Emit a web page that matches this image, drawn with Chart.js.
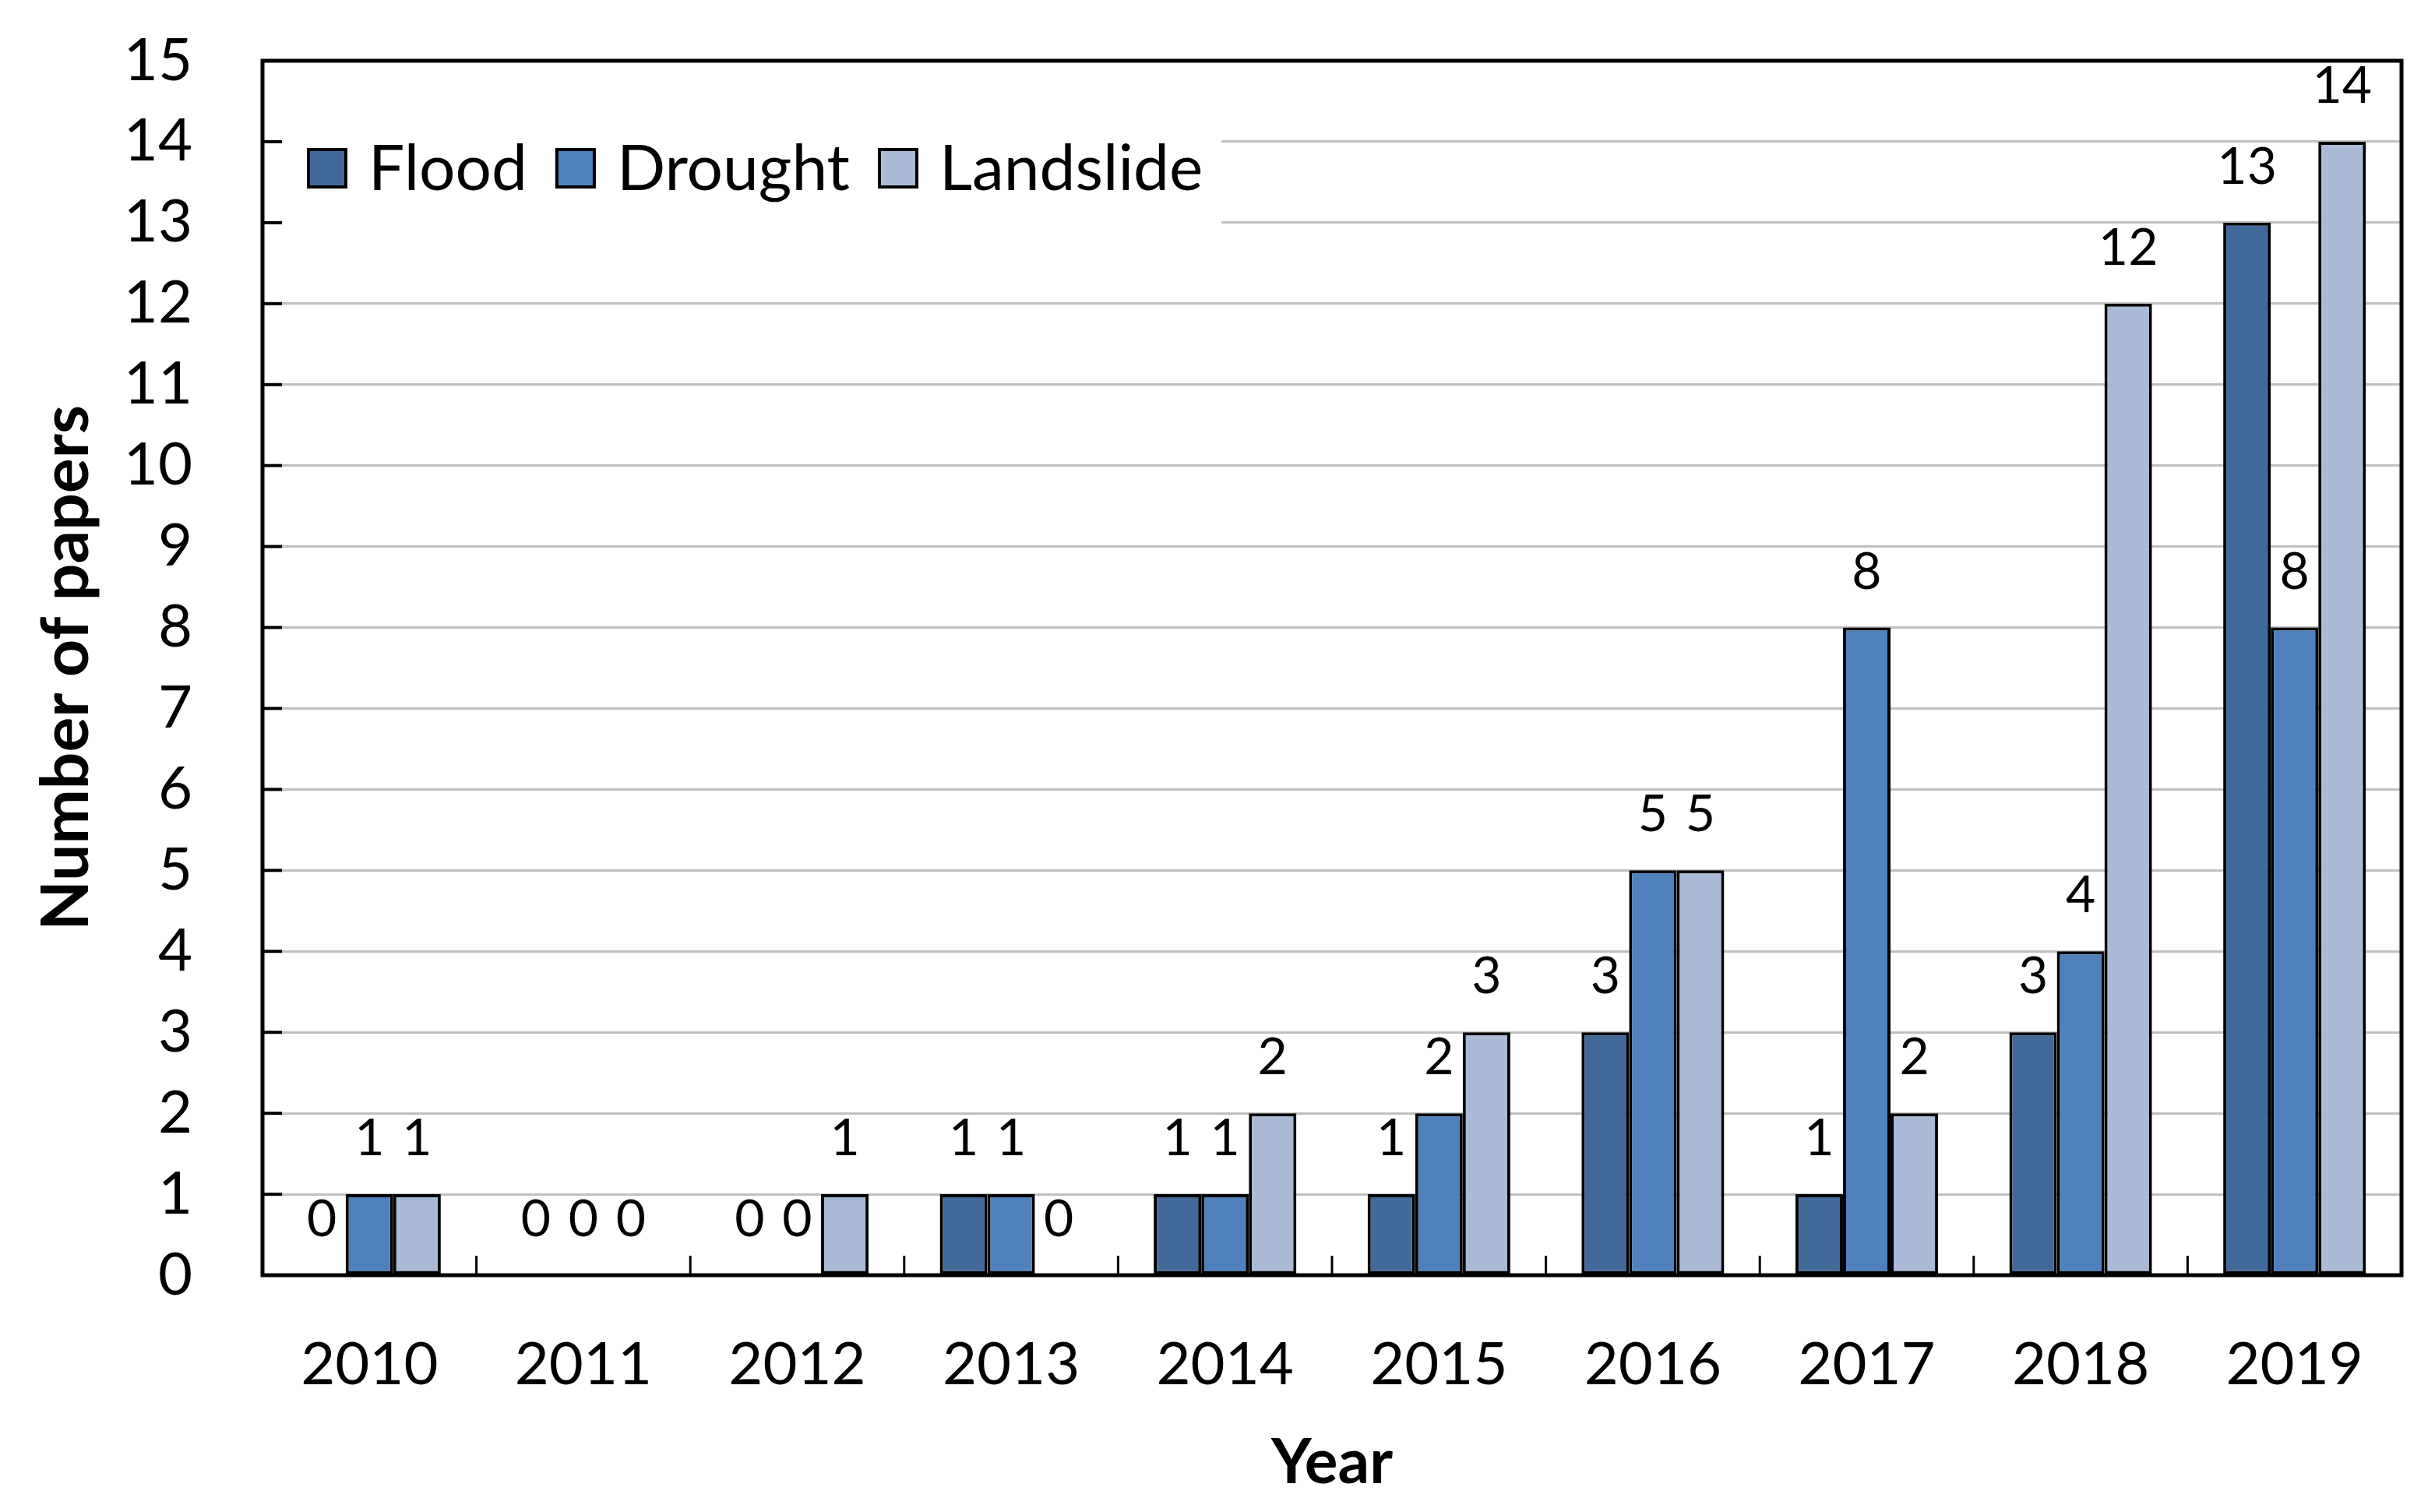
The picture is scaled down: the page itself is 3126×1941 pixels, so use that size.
<!DOCTYPE html>
<html>
<head>
<meta charset="utf-8">
<script src="https://cdn.jsdelivr.net/npm/chart.js@4.4.0/dist/chart.umd.min.js"></script>
<style>
  html, body { margin: 0; padding: 0; background: #fff; }
  #wrap { width: 3126px; height: 1941px; }
</style>
</head>
<body>
<div id="wrap"><canvas id="chart"></canvas></div>
<script>
// === DATA ===
const years = ['2010', '2011', '2012', '2013', '2014', '2015', '2016', '2017', '2018', '2019'];
const flood = [0, 0, 0, 1, 1, 1, 3, 1, 3, 13];
const drought = [1, 0, 0, 1, 1, 2, 5, 8, 4, 8];
const landslide = [1, 0, 1, 0, 2, 3, 5, 2, 12, 14];
const seriesNames = ['Flood', 'Drought', 'Landslide'];
const seriesColors = ['#416A9B', '#4F81BD', '#AABAD7'];
const yMin = 0, yMax = 15, yStep = 1;

const FONT = 'Lato';

// value labels above every bar (zeros too)
const valueLabels = {
  id: 'valueLabels',
  afterDatasetsDraw(chart) {
    const ctx = chart.ctx;
    ctx.save();
    ctx.font = `66px ${FONT}`;
    ctx.fillStyle = '#000';
    ctx.textAlign = 'center';
    ctx.textBaseline = 'alphabetic';
    chart.data.datasets.forEach((ds, di) => {
      chart.getDatasetMeta(di).data.forEach((bar, i) => {
        ctx.fillText(String(ds.data[i]), bar.x, bar.y - 50);
      });
    });
    ctx.restore();
  }
};

// legend inside plot, on a white patch that hides the grid lines
const innerLegend = {
  id: 'innerLegend',
  afterDatasetsDraw(chart) {
    const ctx = chart.ctx, ca = chart.chartArea;
    ctx.save();
    ctx.fillStyle = '#fff';
    ctx.fillRect(ca.left, ca.top + 72, 1231, 160);
    ctx.font = `82px ${FONT}`;
    ctx.textBaseline = 'alphabetic';
    const box = 52, cy = ca.top + 138;
    let x = ca.left + 57;
    chart.data.datasets.forEach(ds => {
      ctx.fillStyle = ds.backgroundColor;
      ctx.fillRect(x, cy - box / 2, box, box);
      ctx.lineWidth = 4;
      ctx.strokeStyle = '#000';
      ctx.strokeRect(x + 2, cy - box / 2 + 2, box - 4, box - 4);
      ctx.fillStyle = '#000';
      ctx.fillText(ds.label, x + box + 27, cy + 28);
      x += box + 27 + ctx.measureText(ds.label).width + 36;
    });
    ctx.restore();
  }
};

// frame + inward tick marks
const frameTicks = {
  id: 'frameTicks',
  afterDraw(chart) {
    const ctx = chart.ctx, ca = chart.chartArea;
    const xs = chart.scales.x, ys = chart.scales.y;
    ctx.save();
    ctx.strokeStyle = '#000';
    ctx.lineWidth = 4;
    for (let v = yMin + yStep; v < yMax; v += yStep) {
      const py = ys.getPixelForValue(v);
      ctx.beginPath(); ctx.moveTo(ca.left, py); ctx.lineTo(ca.left + 25, py); ctx.stroke();
    }
    ctx.lineWidth = 3;
    for (let i = 1; i < years.length; i++) {
      const px = (xs.getPixelForValue(i - 1) + xs.getPixelForValue(i)) / 2;
      ctx.beginPath(); ctx.moveTo(px, ca.bottom); ctx.lineTo(px, ca.bottom - 25); ctx.stroke();
    }
    ctx.lineWidth = 5;
    ctx.strokeRect(ca.left, ca.top, ca.right - ca.left, ca.bottom - ca.top);
    ctx.restore();
  }
};

new Chart(document.getElementById('chart'), {
  type: 'bar',
  data: {
    labels: years,
    datasets: [flood, drought, landslide].map((d, k) => ({
      label: seriesNames[k],
      data: d,
      backgroundColor: seriesColors[k],
      borderColor: '#000',
      borderWidth: 4,
      borderSkipped: false,
      barPercentage: 1,
      categoryPercentage: 0.667
    }))
  },
  options: {
    responsive: true,
    maintainAspectRatio: false,
    devicePixelRatio: 1,
    animation: false,
    layout: { padding: { left: 36, right: 43, top: 78, bottom: 15 } },
    plugins: { legend: { display: false }, tooltip: { enabled: false } },
    scales: {
      x: {
        grid: { display: false, drawTicks: false },
        border: { display: false },
        ticks: { color: '#000', font: { family: FONT, size: 76 }, padding: 70, maxRotation: 0 },
        title: { display: true, text: 'Year', color: '#000', font: { family: FONT, size: 80, weight: 'bold' }, padding: { top: 28, bottom: 0 } },
        afterFit: s => { s.height = 289; s.paddingLeft = 0; s.paddingRight = 0; }
      },
      y: {
        min: yMin, max: yMax,
        grid: { color: '#BFBFBF', lineWidth: 3, drawTicks: false },
        border: { display: false },
        ticks: { stepSize: yStep, color: '#000', font: { family: FONT, size: 76 }, padding: 90 },
        title: { display: true, text: 'Number of papers', color: '#000', font: { family: FONT, size: 84, weight: 'bold' }, padding: { top: 0, bottom: 27 } },
        afterFit: s => { s.width = 301; s.paddingTop = 0; s.paddingBottom = 0; }
      }
    }
  },
  plugins: [innerLegend, valueLabels, frameTicks]
});
</script>
</body>
</html>
